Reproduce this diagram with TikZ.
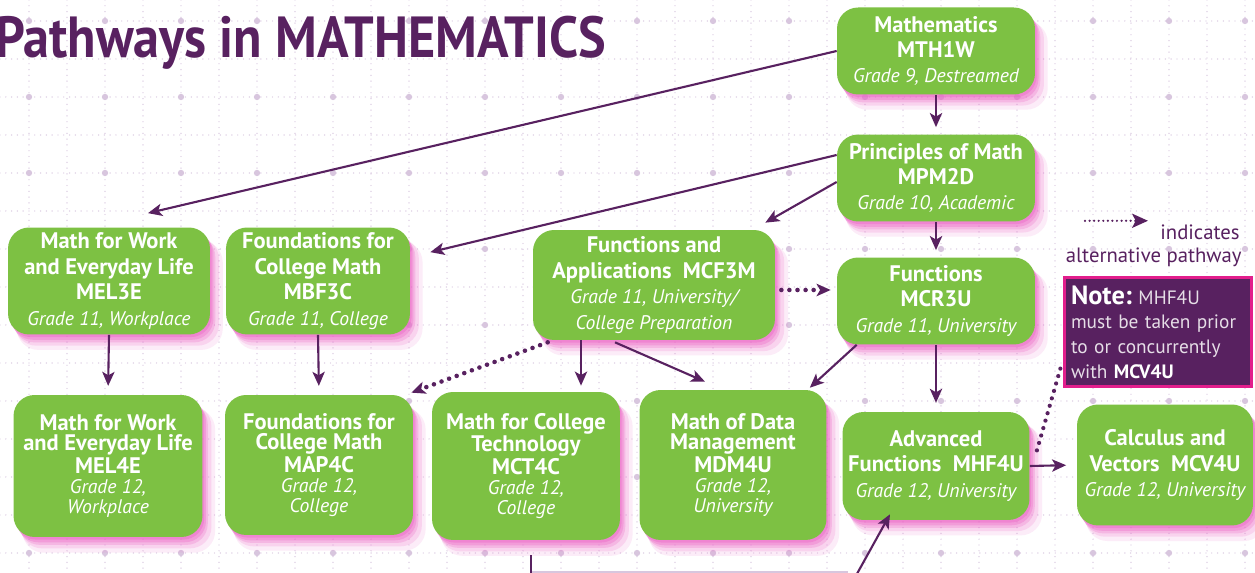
\documentclass[tikz,border=0pt]{standalone}
\usepackage{fontspec}
\usepackage{graphicx}
\setmainfont{PT Sans}
\usetikzlibrary{arrows.meta,calc,shadows}
\definecolor{boxgreen}{RGB}{125,193,67}
\definecolor{pathpurple}{RGB}{88,33,96}
\definecolor{glowpink}{RGB}{236,100,198}
\definecolor{gridlav}{RGB}{216,198,222}
\definecolor{notepink}{RGB}{226,30,140}
\def\gbskip{14.5pt}
\newcommand\grd[1]{{\mdseries\itshape\fontsize{11.2}{\gbskip}\selectfont #1}}
\begin{document}
\begin{tikzpicture}[x=0.02cm, y=-0.02cm,
  course/.style={rounded corners=12pt, fill=boxgreen, text=white, align=center, inner sep=2pt,
    font=\def\gbskip{14.5pt}\fontsize{12.8}{14.5}\selectfont\bfseries,
    general shadow={fill=glowpink, opacity=.12, shadow xshift=6pt, shadow yshift=-8pt, shadow scale=1.02},
    general shadow={fill=glowpink, opacity=.18, shadow xshift=4.5pt, shadow yshift=-6pt, shadow scale=1.01},
    general shadow={fill=glowpink, opacity=.25, shadow xshift=3pt, shadow yshift=-4.5pt},
    general shadow={fill=glowpink, opacity=.32, shadow xshift=2pt, shadow yshift=-3pt},
    general shadow={fill=glowpink, opacity=.4, shadow xshift=1pt, shadow yshift=-1.5pt}},
  tight/.style={font=\def\gbskip{11.4pt}\fontsize{12.8}{11.4}\selectfont\bfseries},
  link/.style={pathpurple, line width=1.2pt, -{Stealth[length=8pt,width=7pt,inset=2pt]}},
  alt/.style={link, line width=2.6pt, line cap=round, dash pattern=on 0pt off 4.6pt}
]
  % 背景和网格
  \path[use as bounding box, fill=white] (0,0) rectangle (1255,573);
  \foreach \gx in {29,67,...,1255}
    \draw[gridlav, line width=0.8pt, line cap=round, dash pattern=on 0pt off 3.3pt] (\gx,0) -- (\gx,573);
  \foreach \gy in {21,59,...,573}
    \draw[gridlav, line width=0.8pt, line cap=round, dash pattern=on 0pt off 3.3pt] (0,\gy) -- (1255,\gy);
  \foreach \gx in {29,105,...,1255}
    \foreach \gy in {21,97,...,573}
      \fill[gridlav] (\gx,\gy) circle (1.8pt);

  % 标题
  \node[anchor=base west, inner sep=0pt, text=pathpurple, font=\fontsize{33}{33}\selectfont\bfseries] (title) at (-5,58)
    {\scalebox{0.9}[1]{Pathways in MATHEMATICS}};

  % 课程方框
  \node[course, minimum width=3.96cm, minimum height=1.74cm] (mth) at (936,51) {Mathematics\\MTH1W\\\grd{Grade 9, Destreamed}};
  \node[course, minimum width=3.96cm, minimum height=1.74cm] (mpm) at (936,178) {Principles of Math\\MPM2D\\\grd{Grade 10, Academic}};
  \node[course, minimum width=3.96cm, minimum height=1.74cm] (mcr) at (936,301) {Functions\\MCR3U\\\grd{Grade 11, University}};
  \node[course, minimum width=4.84cm, minimum height=2.2cm] (mcf) at (654,285) {Functions and\\Applications\ \ MCF3M\\\grd{Grade 11, University/}\\\grd{College Preparation}};
  \node[course, minimum width=4.04cm, minimum height=2.14cm] (mel3) at (109,281) {Math for Work\\and Everyday Life\\MEL3E\\\grd{Grade 11, Workplace}};
  \node[course, minimum width=3.68cm, minimum height=2.14cm] (mbf) at (318,281) {Foundations for\\College Math\\MBF3C\\\grd{Grade 11, College}};
  \node[course, tight, minimum width=3.78cm, minimum height=2.84cm] (mel4) at (108,466) {Math for Work\\and Everyday Life\\MEL4E\\\grd{Grade 12,}\\\grd{Workplace}};
  \node[course, tight, minimum width=3.76cm, minimum height=2.8cm] (map) at (319,465) {Foundations for\\College Math\\MAP4C\\\grd{Grade 12,}\\\grd{College}};
  \node[course, tight, minimum width=3.76cm, minimum height=2.96cm] (mct) at (526,466) {Math for College\\Technology\\MCT4C\\\grd{Grade 12,}\\\grd{College}};
  \node[course, tight, minimum width=3.74cm, minimum height=3.0cm] (mdm) at (733,465) {Math of Data\\Management\\MDM4U\\\grd{Grade 12,}\\\grd{University}};
  \node[course, minimum width=3.74cm, minimum height=2.16cm] (mhf) at (936,466) {Advanced\\Functions\ \ MHF4U\\\grd{Grade 12, University}};
  \node[course, minimum width=3.52cm, minimum height=2.42cm] (mcv) at (1165,465) {Calculus and\\Vectors\ \ MCV4U\\\grd{Grade 12, University}};

  % 说明
  \node[fill=pathpurple, draw=notepink, line width=1.3pt, text=white!85!pathpurple, align=left,
    minimum width=3.74cm, minimum height=2.18cm, text width=3.48cm, inner xsep=0.13cm, inner ysep=0pt,
    font=\fontsize{11}{14}\selectfont] (note) at (1158,332)
    {{\color{white}\fontsize{15}{15}\selectfont\bfseries Note:}\ MHF4U\\must be taken prior\\to or concurrently\\with {\color{white}\bfseries MCV4U}};
  \node[anchor=base east, inner sep=0pt, text=pathpurple, font=\fontsize{11.8}{13}\selectfont] (legind) at (1240,240) {indicates};
  \node[anchor=base east, inner sep=0pt, text=pathpurple, font=\fontsize{11.8}{13}\selectfont] (legalt) at (1242,263) {alternative pathway};
  \draw[pathpurple, line width=1.4pt, line cap=round, dash pattern=on 0pt off 2.6pt,
    -{Stealth[length=9pt,width=8pt,inset=2pt]}] ($(legind.west)+(-75,-12)$) -- ($(legind.west)+(-12,-12)$);

  % 箭头
  \draw[link] (mth.west) -- ($(mel3.north)+(39,-14)$);
  \draw[link, shorten >=4pt] (mth.south) -- (mpm.north);
  \draw[link] ($(mpm.west)+(0,-23)$) -- ($(mbf.north east)+(20,25)$);
  \draw[link] ($(mpm.west)+(0,4)$) -- ($(mcf.north east)+(-10,-7)$);
  \draw[link, shorten >=4pt] (mpm.south) -- (mcr.north);
  \draw[alt] ($(mcf.east)+(6,5)$) -- ($(mcr.west)+(-6,-11)$);
  \draw[alt] ($(mcf.south west)+(15,2)$) -- ($(map.north east)+(-2,-2)$);
  \draw[link] ($(mcf.south)+(-73,0)$) -- ($(mct.north)+(55,-6)$);
  \draw[link] ($(mcf.south)+(-39,2)$) -- ($(mdm.north)+(-28,-8)$);
  \draw[link] ($(mcr.south west)+(20,0)$) -- ($(mdm.north east)+(-17,-2)$);
  \draw[link, shorten >=5pt] (mcr.south) -- (mhf.north);
  \draw[link, shorten >=5pt] (mel3.south) -- (mel4.north);
  \draw[link, shorten >=5pt] (mbf.south) -- (map.north);
  \draw[link, shorten >=6pt] (mhf.east) -- (mcv.west);
  \draw[pathpurple, line width=2.4pt, line cap=round, dash pattern=on 0pt off 4.4pt]
    ($(note.south west)+(-3,-19)$) -- ($(mhf.north east)+(7,39)$);

  % 下方延续
  \coordinate (offa) at (531,590);
  \coordinate (offb) at (848,590);
  \draw[gridlav, line width=1pt] (offa |- 0,572) -- (offb |- 0,572);
  \draw[pathpurple, line width=1.2pt] ($(mct.south)+(5,15)$) -- (offa);
  \draw[link] (offb) -- ($(mhf.south)+(-46,-6)$);
\end{tikzpicture}
\end{document}
